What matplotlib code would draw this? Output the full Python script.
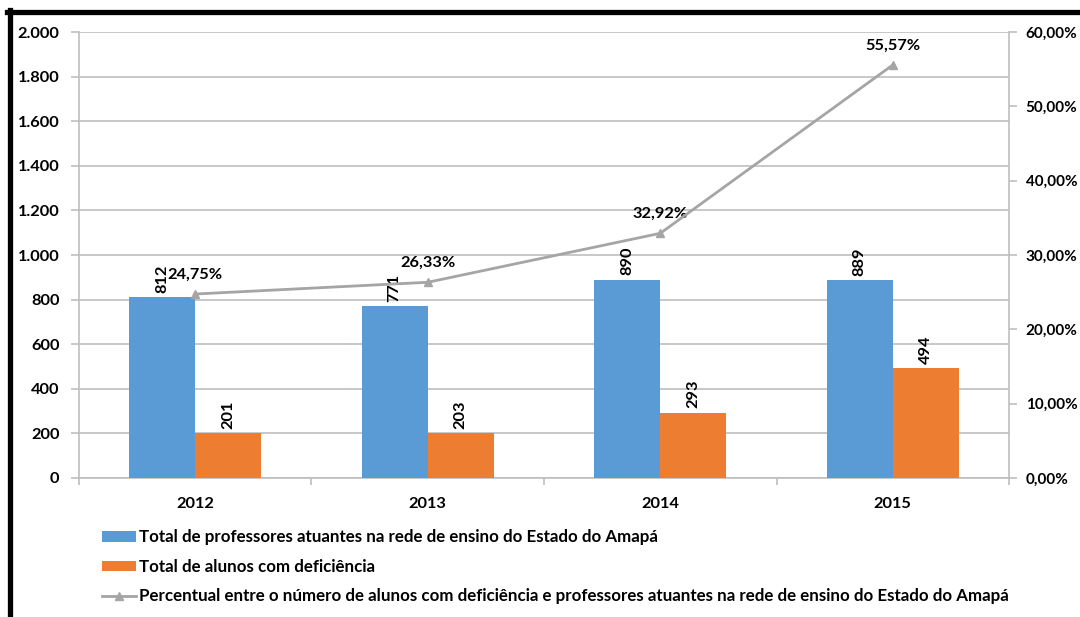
import matplotlib.pyplot as plt
import matplotlib.lines as mlines
from matplotlib.ticker import FuncFormatter, FixedLocator
import numpy as np

plt.rcParams['font.family'] = ['Lato', 'DejaVu Sans']
plt.rcParams['font.weight'] = 'bold'

# dados
anos = ["2012", "2013", "2014", "2015"]
professores = [812, 771, 890, 889]
alunos_def = [201, 203, 293, 494]
percentual = [24.75, 26.33, 32.92, 55.57]

lbl_prof = "Total de professores atuantes na rede de ensino do Estado do Amapá"
lbl_alunos = "Total de alunos com deficiência"
lbl_perc = "Percentual entre o número de alunos com deficiência e professores atuantes na rede de ensino do Estado do Amapá"

azul = "#5B9BD5"
laranja = "#ED7D31"
cinza = "#A5A5A5"
grade = "#BFBFBF"
fs = 11.8

fig = plt.figure(figsize=(10.8, 6.17), dpi=100)
ax = fig.add_axes([0.0731, 0.2253, 0.8612, 0.7228])

x = np.arange(len(anos))
w = 0.284
b1 = ax.bar(x - w / 2, professores, w, color=azul, zorder=3, label=lbl_prof)
b2 = ax.bar(x + w / 2, alunos_def, w, color=laranja, zorder=3, label=lbl_alunos)

for rects, vals in [(b1, professores), (b2, alunos_def)]:
    for r, v in zip(rects, vals):
        ax.annotate(str(v), (r.get_x() + r.get_width() / 2, r.get_height()),
                    xytext=(0, 3), textcoords="offset points",
                    ha="center", va="bottom", rotation=90, fontsize=fs, fontweight="bold")

ax.set_xlim(-0.5, 3.5)
ax.set_ylim(0, 2000)
ax.set_yticks(np.arange(0, 2001, 200))
ax.yaxis.set_major_formatter(FuncFormatter(lambda v, p: f"{int(v):,}".replace(",", ".")))
ax.set_xticks(x)
ax.set_xticklabels(anos)
ax.xaxis.set_minor_locator(FixedLocator([-0.5, 0.5, 1.5, 2.5, 3.5]))
ax.tick_params(axis="x", which="major", length=0, pad=14, labelsize=fs)
ax.tick_params(axis="x", which="minor", length=5, color=grade, width=1.2)
ax.tick_params(axis="y", length=6, color=grade, width=1.2, labelsize=fs, pad=8)
ax.grid(axis="y", color=grade, lw=1.2, zorder=0)
for s in ["top", "right"]:
    ax.spines[s].set_visible(False)
for s in ["left", "bottom"]:
    ax.spines[s].set_color(grade)
    ax.spines[s].set_linewidth(1.2)

# eixo secundário com o percentual
ax2 = ax.twinx()
ln, = ax2.plot(x, percentual, color=cinza, lw=2, marker="^", ms=6, zorder=4, label=lbl_perc)
ax2.set_ylim(0, 60)
ax2.set_yticks(np.arange(0, 61, 10))
ax2.yaxis.set_major_formatter(FuncFormatter(lambda v, p: f"{v:.2f}%".replace(".", ",")))
ax2.tick_params(axis="y", length=6, color=grade, width=1.2, labelsize=11, pad=6)
for s in ["top", "left", "bottom"]:
    ax2.spines[s].set_visible(False)
ax2.spines["right"].set_color(grade)
ax2.spines["right"].set_linewidth(1.2)

for xi, p in zip(x, percentual):
    ax2.annotate(f"{p:.2f}%".replace(".", ","), (xi, p), xytext=(0, 9),
                 textcoords="offset points", ha="center", va="bottom",
                 fontsize=fs, fontweight="bold")

fig.legend(handles=[b1, b2, ln], loc="upper left", bbox_to_anchor=(0.088, 0.153),
           frameon=False, fontsize=12.2, handlelength=2.0, handleheight=0.6,
           handletextpad=0.2, labelspacing=0.8, borderaxespad=0)

# moldura preta
fig.add_artist(mlines.Line2D([0.0065, 1.0], [0.9805, 0.9805], color="black", lw=3.8,
                             transform=fig.transFigure))
fig.add_artist(mlines.Line2D([0.0088, 0.0088], [0.984, 0.0], color="black", lw=3.8,
                             transform=fig.transFigure))

fig.savefig("out.png", dpi=100)
